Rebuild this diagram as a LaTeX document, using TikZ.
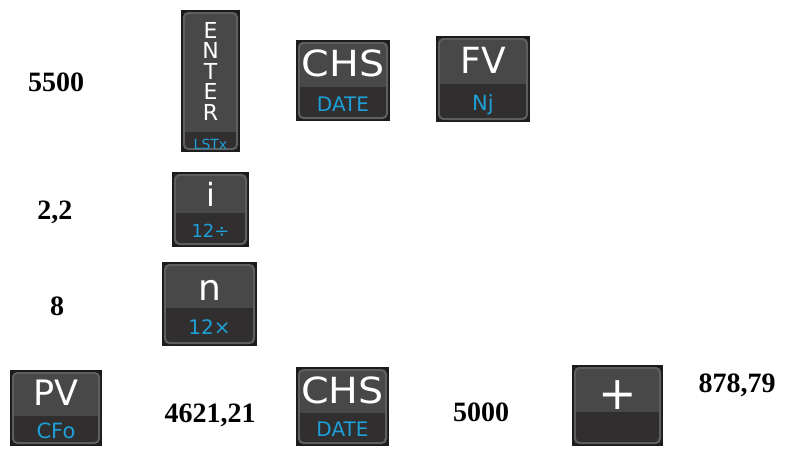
\documentclass[tikz,border=0pt]{standalone}
\usepackage{fontspec}
\setmainfont{Liberation Serif}
\newfontfamily\keyfont{DejaVu Sans}
\newfontfamily\keywide[FakeStretch=1.1]{DejaVu Sans}
\definecolor{keyEdge}{HTML}{1C1C1C}
\definecolor{keyRim}{HTML}{5E5E5E}
\definecolor{keyTop}{HTML}{484848}
\definecolor{keyBot}{HTML}{302E2E}
\definecolor{keyBlue}{HTML}{1E9FD8}

\tikzset{
  keyedge/.style={fill=keyEdge},
  keyrim/.style={fill=keyRim, rounded corners=5pt},
  keytop/.style={fill=keyTop},
  keybot/.style={fill=keyBot},
  keylabel/.style={text=white, inner sep=0pt, text height=25.5pt, text depth=0pt,
    font=\keyfont\fontsize{35}{35}\selectfont},
  fnlabel/.style={text=keyBlue, inner sep=0pt, text height=14.6pt, text depth=0pt,
    font=\keyfont\fontsize{20}{20}\selectfont},
  entry/.style={inner sep=0pt, text height=19pt, text depth=0pt,
    font=\bfseries\fontsize{28}{28}\selectfont},
}

% one calculator key: [top label opts]{name}{x1}{y1}{x2}{y2}{divider y}{top}{bottom}
\newcommand{\hpkey}[9][]{%
  \fill[keyedge] (#3,#4) rectangle (#5,#6);
  \fill[keyrim] ({#3+2},{#4+2}) rectangle ({#5-2},{#6-2});
  \begin{scope}
    \clip[rounded corners=4pt] ({#3+4},{#4+4}) rectangle ({#5-4},{#6-4});
    \fill[keytop] ({#3+4},{#4+4}) rectangle ({#5-4},#7);
    \fill[keybot] ({#3+4},#7) rectangle ({#5-4},{#6-4});
  \end{scope}
  \node[keylabel, #1] (#2) at ({(#3+#5)/2},{(#4+#7)/2}) {#8};
  \node[fnlabel] (#2f) at ({(#3+#5)/2},{(#7+#6)/2}) {#9};
}

\begin{document}
\begin{tikzpicture}[x=1pt, y=-1pt]
  \useasboundingbox (0,0) rectangle (793,448);

  % row 1
  \node[entry] (v5500) at (56,82) {5500};
  \hpkey[font=\keyfont\fontsize{22}{20.5}\selectfont, align=center, text height={}, text depth={}]
    {enter}{181}{10}{240}{152}{132}{E\\N\\T\\E\\R}{\fontsize{14}{14}\selectfont LSTx}
  \hpkey[font=\keywide\fontsize{36}{36}\selectfont, text height=26.3pt]{chsA}{296}{40}{390}{121}{87}{CHS}{DATE}
  \hpkey[font=\keyfont\fontsize{36}{36}\selectfont, text height=26.3pt]{fv}{436}{36}{530}{122}{84}{FV}{\fontsize{21}{21}\selectfont Nj}

  % row 2
  \node[entry] (v22) at (55,210) {2,2};
  \hpkey[font=\keyfont\fontsize{32}{32}\selectfont, text height=27pt]{ikey}{172}{172}{249}{247}{213}{i}{\fontsize{18}{18}\selectfont 12÷}

  % row 3
  \node[entry] (v8) at (57,306) {8};
  \hpkey[font=\keyfont\fontsize{36}{36}\selectfont, text height=30pt]{nkey}{162}{262}{257}{346}{308}{n}{12×}

  % row 4
  \hpkey{pv}{10}{370}{102}{446}{416}{PV}{\fontsize{21}{21}\selectfont CFo}
  \node[entry] (v4621) at (210,413) {4621,21};
  \hpkey[font=\keywide\fontsize{36}{36}\selectfont, text height=26.3pt]{chsB}{296}{367}{389}{446}{413}{CHS}{DATE}
  \node[entry] (v5000) at (481,412) {5000};
  \hpkey[font=\keyfont\fontsize{46}{46}\selectfont, text height=42pt]{plus}{572}{365}{663}{446}{412}{+}{}
  \node[entry] (v878) at (737,383) {878,79};
\end{tikzpicture}
\end{document}
